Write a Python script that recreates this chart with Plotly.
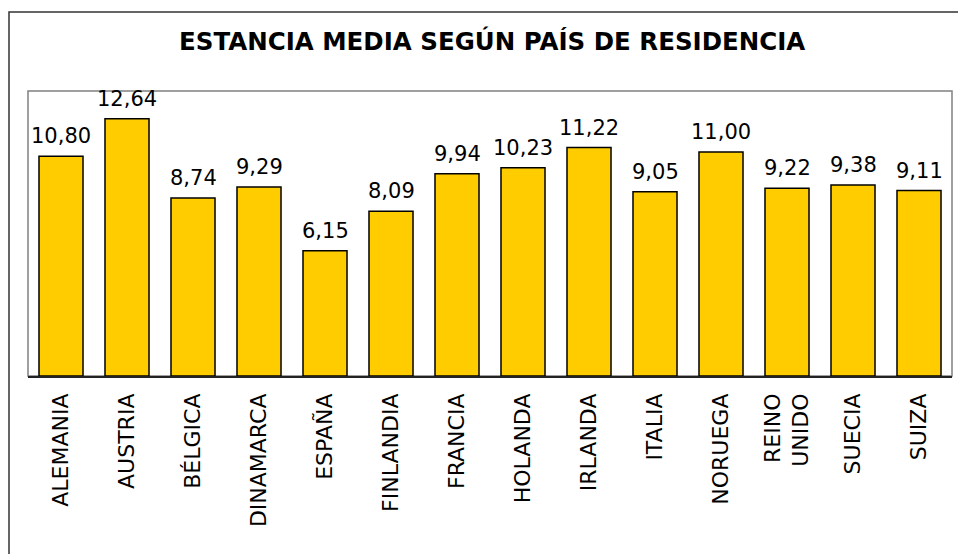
import plotly.graph_objects as go

categories = ["ALEMANIA", "AUSTRIA", "BÉLGICA", "DINAMARCA", "ESPAÑA", "FINLANDIA",
              "FRANCIA", "HOLANDA", "IRLANDA", "ITALIA", "NORUEGA", "REINO<br>UNIDO",
              "SUECIA", "SUIZA"]
values = [10.80, 12.64, 8.74, 9.29, 6.15, 8.09, 9.94, 10.23, 11.22, 9.05, 11.00, 9.22, 9.38, 9.11]
title_text = "ESTANCIA MEDIA SEGÚN PAÍS DE RESIDENCIA"

W, H = 958, 554
L, R, T, B = 28, 6, 91, 178
pw, ph = W - L - R, H - T - B

fig = go.Figure(go.Bar(
    x=categories, y=values,
    marker=dict(color="#FFCC00", line=dict(color="#000000", width=1.5)),
    cliponaxis=False,
))

value_annotations = [
    dict(x=c, y=v, xref="x", yref="y", text=f"{v:.2f}".replace(".", ","),
         showarrow=False, xanchor="center", yanchor="bottom", yshift=6,
         font=dict(size=21, family="DejaVu Sans", color="#000000"))
    for c, v in zip(categories, values)
]

fig.update_layout(
    width=W, height=H,
    margin=dict(l=L, r=R, t=T, b=B, autoexpand=False),
    paper_bgcolor="white", plot_bgcolor="white",
    separators=",.",
    bargap=0.333,
    showlegend=False,
    font=dict(family="DejaVu Sans", color="#000000"),
    annotations=[dict(
        text="<b>" + title_text + "</b>", xref="paper", yref="paper",
        x=(492 - L) / pw, y=1 + (T - 41.5) / ph, xanchor="center", yanchor="middle",
        showarrow=False, font=dict(size=24.5, family="DejaVu Sans", color="#000000"),
    )] + value_annotations,
    shapes=[
        dict(type="rect", xref="paper", yref="paper",
             x0=(9 - L) / pw, x1=(975 - L) / pw, y0=-(H + 20 - T - ph) / ph, y1=1 + (T - 12) / ph,
             line=dict(color="#333333", width=1.5), fillcolor="rgba(0,0,0,0)", layer="below"),
        dict(type="rect", xref="paper", yref="paper", x0=0, x1=1, y0=0, y1=1,
             line=dict(color="#808080", width=1.5), fillcolor="rgba(0,0,0,0)", layer="below"),
    ],
)
fig.update_xaxes(
    tickangle=-90, tickfont=dict(size=22, family="DejaVu Sans", color="#000000"),
    showline=True, linecolor="#222222", linewidth=1.5,
    ticks="", ticklabelstandoff=7, showgrid=False,
)
fig.update_yaxes(range=[0, 14], showticklabels=False, showgrid=False, zeroline=False, ticks="")

fig.write_html("out.html", config={"displayModeBar": False},
               post_script="document.body.style.margin='0';document.body.style.overflow='hidden';")
